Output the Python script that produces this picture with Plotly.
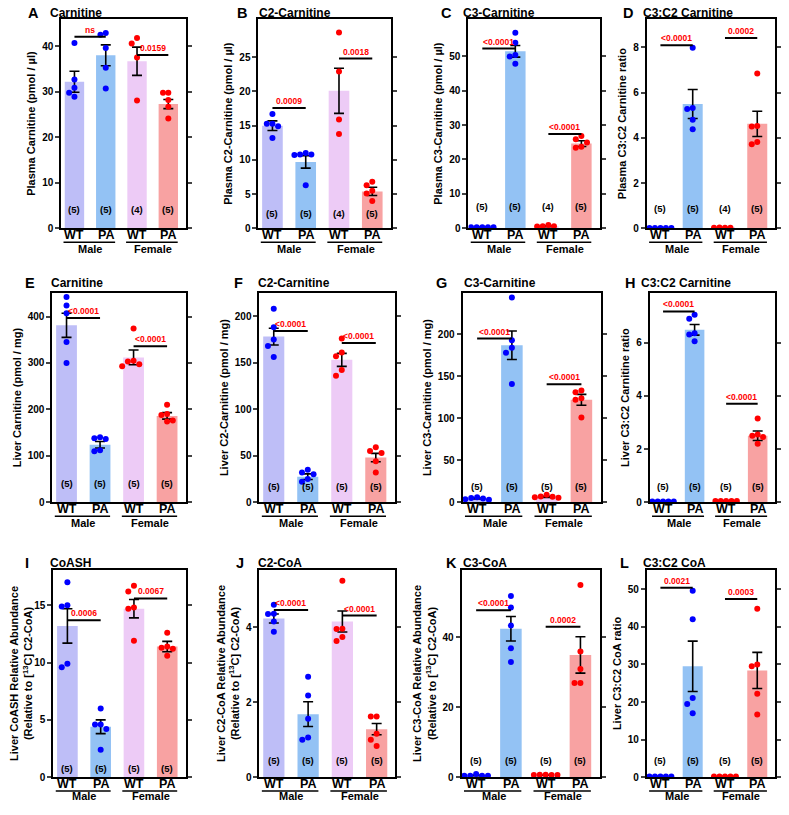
import plotly.graph_objects as go

W, H = 789, 815
PAD = 8  # browser page margin around the plot div

# ---- data ----
x_labels = ["WT", "PA", "WT", "PA"]
sex_labels = ["Male", "Female"]
letters = list("ABCDEFGHIJKL")
titles = ["Carnitine", "C2-Carnitine", "C3-Carnitine", "C3:C2 Carnitine",
          "Carnitine", "C2-Carnitine", "C3-Carnitine", "C3:C2 Carnitine",
          "CoASH", "C2-CoA", "C3-CoA", "C3:C2 CoA"]
y_titles = ["Plasma Carnitine (pmol / µl)",
            "Plasma C2-Carnitine (pmol / µl)",
            "Plasma C3-Carnitine (pmol / µl)",
            "Plasma C3:C2 Carnitine ratio",
            "Liver Carnitine (pmol / mg)",
            "Liver C2-Carnitine (pmol / mg)",
            "Liver C3-Carnitine (pmol / mg)",
            "Liver C3:C2 Carnitine ratio",
            "Liver CoASH Relative Abundance<br>(Relative to [<sup>13</sup>C] C2-CoA)",
            "Liver C2-CoA Relative Abundance<br>(Relative to [<sup>13</sup>C] C2-CoA)",
            "Liver C3-CoA Relative Abundance<br>(Relative to [<sup>13</sup>C] C2-CoA)",
            "Liver C3:C2 CoA ratio"]

a_mean = [32.2, 38.0, 36.7, 27.3]
a_sem = [2.3, 2.3, 3.1, 1.0]
a_pts = [[40.7, 32.7, 30.9, 29.8, 28.9], [42.9, 42.5, 39.6, 35.3, 30.7],
         [41.8, 40.6, 37.5, 28.1], [29.8, 29.8, 28.2, 26.7, 24.1]]
a_p = [("ns", 0, 1, 42.1), ("0.0159", 2, 3, 38.1)]

b_mean = [15.0, 9.7, 20.1, 5.4]
b_sem = [0.7, 0.9, 3.3, 0.6]
b_pts = [[16.7, 15.3, 15.3, 14.9, 13.2], [11.0, 10.8, 10.8, 10.7, 6.3],
         [28.6, 22.9, 15.9, 13.8], [6.8, 6.3, 5.5, 5.1, 4.0]]
b_p = [("0.0009", 0, 1, 17.6), ("0.0018", 2, 3, 24.8)]

c_mean = [0.3, 51.4, 0.6, 24.6]
c_sem = [0.05, 1.7, 0.15, 0.85]
c_pts = [[0.3, 0.3, 0.3, 0.3, 0.3], [56.8, 53.9, 50.3, 49.9, 47.8],
         [1.0, 0.6, 0.6, 0.5], [26.8, 25.9, 24.9, 23.7, 23.4]]
c_p = [("<0.0001", 0, 1, 52.2), ("<0.0001", 2, 3, 27.4)]

d_mean = [0.02, 5.5, 0.03, 4.62]
d_sem = [0.003, 0.64, 0.004, 0.56]
d_pts = [[0.02, 0.02, 0.02, 0.02, 0.02], [7.98, 5.32, 5.28, 4.8, 4.38],
         [0.03, 0.04, 0.03, 0.03], [6.85, 4.53, 4.5, 3.82, 3.72]]
d_p = [("<0.0001", 0, 1, 8.1), ("0.0002", 2, 3, 8.42)]

e_mean = [381, 124, 312, 186]
e_sem = [26, 7, 16, 7]
e_pts = [[442, 424, 407, 345, 300], [140, 138, 136, 112, 110],
         [374, 305, 303, 297, 293], [210, 190, 188, 176, 174]]
e_p = [("<0.0001", 0, 1, 397), ("<0.0001", 2, 3, 336)]

f_mean = [178, 27.5, 153, 48]
f_sem = [9, 3, 7, 4.5]
f_pts = [[208, 188, 175, 168, 156], [35, 32, 30, 25, 22],
         [176, 161, 157, 142, 136], [59, 55, 53, 44, 32]]
f_p = [("<0.0001", 0, 1, 184), ("<0.0001", 2, 3, 171)]

g_mean = [4.5, 187, 6.5, 122]
g_sem = [0.6, 17, 0.7, 6.5]
g_pts = [[6, 5, 4.5, 3.5, 3], [244, 193, 184, 178, 141],
         [9, 7, 6.5, 6, 5.5], [133, 131, 124, 122, 101]]
g_p = [("<0.0001", 0, 1, 195), ("<0.0001", 2, 3, 140.6)]

h_mean = [0.03, 6.48, 0.05, 2.5]
h_sem = [0.003, 0.2, 0.005, 0.18]
h_pts = [[0.03, 0.03, 0.03, 0.03, 0.03], [7.05, 6.9, 6.35, 6.3, 6.05],
         [0.05, 0.05, 0.05, 0.05, 0.05], [3.15, 2.55, 2.5, 2.45, 2.2]]
h_p = [("<0.0001", 0, 1, 7.17), ("<0.0001", 2, 3, 3.7)]

i_mean = [13.2, 4.4, 14.7, 11.4]
i_sem = [1.5, 0.6, 0.8, 0.45]
i_pts = [[17.0, 15.0, 14.9, 9.9, 9.6], [6.0, 4.6, 4.6, 4.2, 2.4],
         [16.7, 16.2, 14.8, 14.7, 11.9], [12.6, 11.4, 11.3, 11.2, 10.6]]
i_p = [("0.0006", 0, 1, 13.7), ("0.0067", 2, 3, 15.6)]

j_mean = [4.23, 1.68, 4.15, 1.28]
j_sem = [0.12, 0.33, 0.28, 0.15]
j_pts = [[4.6, 4.36, 4.35, 4.15, 3.88], [2.68, 2.18, 1.56, 1.06, 1.0],
         [5.24, 3.96, 3.95, 3.74, 3.63], [1.62, 1.62, 1.16, 1.0, 0.83]]
j_p = [("<0.0001", 0, 1, 4.46), ("<0.0001", 2, 3, 4.31)]

k_mean = [0.5, 42.5, 0.6, 35.0]
k_sem = [0.1, 3.5, 0.03, 5.2]
k_pts = [[0.9, 0.4, 0.4, 0.4, 0.4], [51.9, 48.6, 43.4, 36.9, 33.0],
         [0.7, 0.7, 0.6, 0.6, 0.6], [55, 36, 31, 27, 27]]
k_p = [("<0.0001", 0, 1, 47.8), ("0.0002", 2, 3, 43.1)]

l_mean = [0.2, 29.5, 0.2, 28.4]
l_sem = [0.01, 6.7, 0.01, 4.8]
l_pts = [[0.2, 0.2, 0.2, 0.2, 0.2], [49.6, 42.0, 21.1, 19.5, 17.0],
         [0.2, 0.2, 0.2, 0.2, 0.2], [44.8, 30.0, 29.5, 22.2, 16.7]]
l_p = [("0.0021", 0, 1, 50.4), ("0.0003", 2, 3, 47.4)]

panels = [(a_mean, a_sem, a_pts, a_p), (b_mean, b_sem, b_pts, b_p),
          (c_mean, c_sem, c_pts, c_p), (d_mean, d_sem, d_pts, d_p),
          (e_mean, e_sem, e_pts, e_p), (f_mean, f_sem, f_pts, f_p),
          (g_mean, g_sem, g_pts, g_p), (h_mean, h_sem, h_pts, h_p),
          (i_mean, i_sem, i_pts, i_p), (j_mean, j_sem, j_pts, j_p),
          (k_mean, k_sem, k_pts, k_p), (l_mean, l_sem, l_pts, l_p)]

# ---- layout settings ----
y_max = [46, 30.6, 60.8, 9.26, 451, 225, 249.5, 7.87, 18.1, 5.53, 59.4, 55.2]
y_dtick = [10, 5, 10, 2, 100, 50, 50, 2, 5, 2, 20, 10]
y_lasttick = [40, 25, 50, 8, 400, 200, 200, 6, 15, 4, 40, 50]
# axis boxes in page pixels: left, top, right, bottom
boxes = [(56, 19, 182, 230), (256, 19, 390, 230), (469, 19, 602, 230), (650, 19, 780, 230),
         (47, 295, 182, 506), (257, 295, 394, 506), (463, 295, 603, 506), (653, 295, 780, 506),
         (48, 574, 182, 783), (257, 574, 395, 783), (462, 574, 602, 783), (650, 574, 780, 783)]
letter_pos = [(21, 43), (233, 256), (440, 462), (625, 645),
              (18, 45), (230, 255), (435, 463), (627, 643),
              (18, 43), (232, 255), (445, 462), (622, 645)]
row_title_y = [13.5, 285, 567]
n_frac = [0.092, 0.07, 0.104, 0.096, 0.09, 0.074, 0.076, 0.076, 0.04, 0.082, 0.08, 0.079]

bar_colors = ["#BEBEF7", "#93C2F4", "#EDCBF6", "#F8A2A2"]
dot_colors = ["#0000FF", "#0000FF", "#FF0000", "#FF0000"]
FONT = "Liberation Sans"
xpos = [0, 1, 2, 3]

# figure sized so that figure + page margins exactly fill the window
FW, FH = W - 2 * PAD, H - 2 * PAD


def px_x(p):
    return (p - PAD) / FW


def px_y(p):
    return 1 - (p - PAD) / FH


def swarm(vals, span, step=0.17, gap=0.032):
    placed, offs = [], []
    for v in vals:
        off = 0
        for k in [0, -1, 1, -2, 2, -3, 3]:
            off = k * step
            if all(abs(off - po) >= step * 0.95 or abs(v - pv) >= gap * span
                   for po, pv in placed):
                break
        placed.append((off, v))
        offs.append(off)
    return offs


fig = go.Figure()
layout = dict(width=FW, height=FH, margin=dict(l=0, r=0, t=0, b=0),
              plot_bgcolor="white", paper_bgcolor="white", showlegend=False,
              font=dict(family=FONT, color="black"))
annotations, shapes = [], []

for idx, (mean, sem, pts, pvals) in enumerate(panels):
    n = idx + 1
    xa = "x" if n == 1 else f"x{n}"
    ya = "y" if n == 1 else f"y{n}"
    l, t, r, b = boxes[idx]
    counts = [len(p) for p in pts]
    bot = 20 if idx >= 8 else 22

    fig.add_trace(go.Bar(
        x=xpos, y=mean, width=0.62, marker=dict(color=bar_colors, line=dict(width=0)),
        error_y=dict(type="data", array=sem, color="black", thickness=1.6, width=5),
        xaxis=xa, yaxis=ya, hoverinfo="skip"))

    for g in range(4):
        offs = swarm(pts[g], y_max[idx])
        fig.add_trace(go.Scatter(
            x=[xpos[g] + o for o in offs], y=pts[g], mode="markers",
            marker=dict(color=dot_colors[g], size=6),
            xaxis=xa, yaxis=ya, hoverinfo="skip"))

    ticks = list(range(0, int(y_lasttick[idx] + y_dtick[idx]), int(y_dtick[idx])))
    ticks = [v for v in ticks if v <= y_lasttick[idx]]
    layout[f"xaxis{n}"] = dict(
        domain=[px_x(l), px_x(r)], anchor=ya, range=[-0.42, 3.55],
        showline=True, mirror=True, linewidth=2, linecolor="black",
        ticks="", showticklabels=False,
        showgrid=False, zeroline=False)
    layout[f"yaxis{n}"] = dict(
        domain=[px_y(b), px_y(t)], anchor=xa, range=[0, y_max[idx]],
        showline=True, mirror="ticks", linewidth=2, linecolor="black",
        ticks="outside", ticklen=4, tickwidth=1.5, tickvals=ticks,
        tickfont=dict(size=10, weight="bold"),
        title=dict(text=y_titles[idx], font=dict(size=11, weight="bold"), standoff=4),
        showgrid=False, zeroline=False)

    # panel letter and title
    lx, tx = letter_pos[idx]
    ty = row_title_y[idx // 4]
    annotations.append(dict(text=letters[idx], x=px_x(lx), y=px_y(ty), xref="paper", yref="paper",
                            xanchor="left", yanchor="middle", showarrow=False, borderpad=0,
                            font=dict(size=14.5, weight="bold")))
    annotations.append(dict(text=titles[idx], x=px_x(tx), y=px_y(ty), xref="paper", yref="paper",
                            xanchor="left", yanchor="middle", showarrow=False, borderpad=0,
                            font=dict(size=12, weight="bold")))

    # group labels under the axis
    for g in range(4):
        annotations.append(dict(text=x_labels[g], x=xpos[g], y=px_y(b + 7),
                                xref=xa, yref="paper", showarrow=False,
                                xanchor="center", yanchor="middle", borderpad=0,
                                font=dict(size=12.5, weight="bold")))

    # n labels
    for g in range(4):
        annotations.append(dict(text=f"({counts[g]})", x=xpos[g], y=n_frac[idx],
                                xref=xa, yref=f"{ya} domain", showarrow=False,
                                xanchor="center", yanchor="middle",
                                font=dict(size=9.5, weight="bold")))

    # significance bars
    for label, g1, g2, yv in pvals:
        x0 = (xpos[g1] + xpos[g2]) / 2 - 0.5
        x1 = x0 + 1.0
        shapes.append(dict(type="line", xref=xa, yref=ya, x0=x0, x1=x1, y0=yv, y1=yv,
                           line=dict(color="black", width=2)))
        annotations.append(dict(text=label, x=(x0 + x1) / 2, y=yv, xref=xa, yref=ya,
                                showarrow=False, xanchor="center", yanchor="bottom", yshift=1,
                                borderpad=0,
                                font=dict(size=8.5, color="red", weight="bold")))

    # sex group lines and labels
    for s, (ga, gb) in enumerate([(0, 1), (2, 3)]):
        shapes.append(dict(type="line", xref=xa, yref="paper",
                           x0=xpos[ga] - 0.35, x1=xpos[gb] + 0.3,
                           y0=px_y(b + 14), y1=px_y(b + 14),
                           line=dict(color="black", width=1.5)))
        annotations.append(dict(text=sex_labels[s], x=(xpos[ga] + xpos[gb]) / 2,
                                y=px_y(b + bot - 1), xref=xa, yref="paper", showarrow=False,
                                xanchor="center", yanchor="middle", borderpad=0,
                                font=dict(size=11, weight="bold")))

layout["xaxis"] = layout.pop("xaxis1")
layout["yaxis"] = layout.pop("yaxis1")
layout["annotations"] = annotations
layout["shapes"] = shapes
fig.update_layout(**layout)

fig.write_html("out.html")
